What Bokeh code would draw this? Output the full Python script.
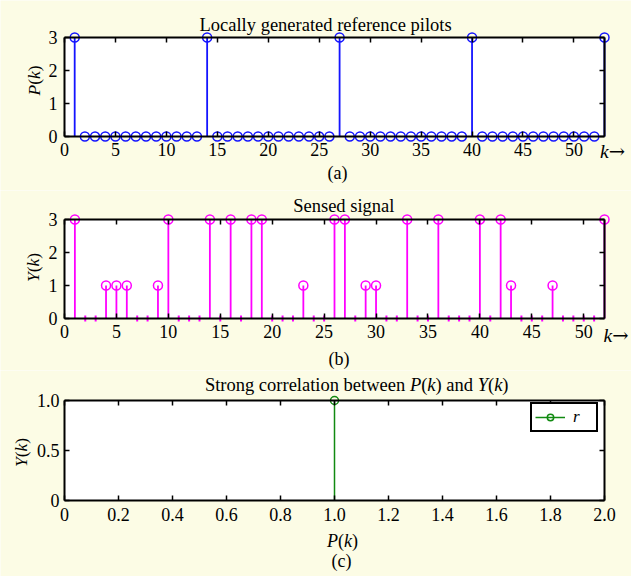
import math
from bokeh.plotting import figure
from bokeh.layouts import column
from bokeh.models import (Range1d, LinearAxis, FixedTicker, BoxAnnotation, Label,
                          Legend, LegendItem, CustomJSTickFormatter)
from bokeh.core.properties import value
from bokeh.embed import file_html
from bokeh.resources import INLINE

# ---------------- data ----------------
k_pilot = list(range(1, 54))
P_pilot = [3, 0, 0, 0, 0, 0, 0, 0, 0, 0, 0, 0, 0,
           3, 0, 0, 0, 0, 0, 0, 0, 0, 0, 0, 0, 0,
           3, 0, 0, 0, 0, 0, 0, 0, 0, 0, 0, 0, 0,
           3, 0, 0, 0, 0, 0, 0, 0, 0, 0, 0, 0, 0,
           3]

k_sensed = list(range(1, 53))
Y_sensed = [3, 0, 0, 1, 1, 1, 0, 0, 1, 3,
            0, 0, 0, 3, 0, 3, 0, 3, 3, 0,
            0, 0, 1, 0, 0, 3, 3, 0, 1, 1,
            0, 0, 3, 0, 0, 3, 0, 0, 0, 3,
            0, 3, 1, 0, 0, 0, 1, 0, 0, 0,
            0, 3]

corr_P = [1.0]
corr_r = [1.0]

a_xlim = (0, 53)
a_ylim = (0, 3)
b_xlim = (0, 52)
b_ylim = (0, 3)
c_xlim = (0, 2)
c_ylim = (0, 1)

k_ticks = [0, 5, 10, 15, 20, 25, 30, 35, 40, 45, 50]
amp_ticks = [0, 1, 2, 3]
c_xticks = [0, 0.2, 0.4, 0.6, 0.8, 1.0, 1.2, 1.4, 1.6, 1.8, 2.0]
c_xtick_labels = ["0", "0.2", "0.4", "0.6", "0.8", "1.0", "1.2", "1.4", "1.6", "1.8", "2.0"]
c_yticks = [0, 0.5, 1.0]
c_ytick_labels = ["0", "0.5", "1.0"]

# ---------------- style ----------------
W = 631
BG = "#FCFCE5"
FONT = "Liberation Serif"
ARROW_FONT = "DejaVu Serif"
BLUE = "#1414FF"
MAGENTA = "#FF00FF"
GREEN = "#118A11"
TICK_FS = "18px"
FRAMES = {}

W_REG = {' ': .25, '(': .333, ')': .333, 'a': .444, 'b': .5, 'c': .444, 'd': .5,
         'e': .444, 'f': .333, 'g': .5, 'i': .278, 'l': .278, 'n': .5, 'o': .5,
         'p': .5, 'r': .333, 's': .389, 't': .278, 'w': .722, 'y': .5, 'S': .556,
         'L': .611, '\u2192': 0.838}
W_IT = {'P': .611, 'k': .444, 'Y': .556, 'r': .389}


def tw(s, italic, size):
    tbl = W_IT if italic else W_REG
    return sum(tbl.get(ch, 0.5) for ch in s) * size


def make_panel(h, xlim, ylim, x0px, x1px, ytop, ybot):
    """Frame covers the whole canvas; the data box maps onto the given pixels."""
    sx = (x1px - x0px) / (xlim[1] - xlim[0])
    sy = (ybot - ytop) / (ylim[1] - ylim[0])
    p = figure(width=W, height=h,
               x_range=Range1d(xlim[0] - x0px / sx, xlim[1] + (W - x1px) / sx),
               y_range=Range1d(ylim[0] - (h - ybot) / sy, ylim[1] + ytop / sy),
               output_backend="svg", toolbar_location=None,
               x_axis_location=None, y_axis_location=None,
               min_border=0, min_border_left=0, min_border_right=0,
               min_border_top=0, min_border_bottom=0,
               background_fill_color=BG, border_fill_color=BG,
               outline_line_color=None)
    p.xgrid.visible = False
    p.ygrid.visible = False
    p.grid.grid_line_color = None
    p.add_layout(BoxAnnotation(left=xlim[0], right=xlim[1], bottom=ylim[0], top=ylim[1],
                               fill_color="white", fill_alpha=1.0, line_color=None,
                               level="underlay"))
    FRAMES[p.id] = (0, h)
    return p


def blank():
    return CustomJSTickFormatter(code="return ''")


def add_axes(p, xlim, ylim, xticks, yticks, xover=None, yover=None, sx=3, sy=7):
    common = dict(major_tick_in=5, major_tick_out=0, minor_tick_line_color=None,
                  axis_line_width=2, axis_line_color="black",
                  major_tick_line_width=1.5, major_tick_line_color="black",
                  major_label_text_font=FONT, major_label_text_font_size=TICK_FS,
                  major_label_text_color="black")
    below = LinearAxis(ticker=FixedTicker(ticks=xticks), bounds=xlim,
                       fixed_location=ylim[0], major_label_standoff=sx, **common)
    if xover:
        below.major_label_overrides = xover
    above = LinearAxis(ticker=FixedTicker(ticks=xticks), bounds=xlim,
                       fixed_location=ylim[1], formatter=blank(), major_label_standoff=0, **common)
    left = LinearAxis(ticker=FixedTicker(ticks=yticks), bounds=ylim,
                      fixed_location=xlim[0], major_label_standoff=sy, **common)
    if yover:
        left.major_label_overrides = yover
    right = LinearAxis(ticker=FixedTicker(ticks=yticks), bounds=ylim,
                       fixed_location=xlim[1], formatter=blank(), major_label_standoff=0, **common)
    p.add_layout(below, "below")
    p.add_layout(above, "above")
    p.add_layout(left, "left")
    p.add_layout(right, "right")


def rich(p, pieces, cx, cy, size, angle=0.0, anchor="center"):
    """Mixed upright/italic text, (cx, cy) in figure pixels from top-left; cy is the middle."""
    fl, fb = FRAMES[p.id]
    total = sum(tw(t, it, size) for t, it in pieces)
    pos = -total / 2 if anchor == "center" else 0.0
    dx, dy = math.cos(angle), math.sin(angle)
    x0 = cx - fl
    y0 = fb - cy
    for t, it in pieces:
        font = ARROW_FONT if t == "\u2192" else FONT
        p.add_layout(Label(x=x0 + dx * pos, y=y0 + dy * pos, x_units="screen", y_units="screen",
                           text=t, angle=angle, text_font=font, text_font_size=f"{size}px",
                           text_font_style="italic" if it else "normal",
                           text_align="left", text_baseline="middle", text_color="black"))
        pos += tw(t, it, size)


# ---------------- panel (a) ----------------
pa = make_panel(190, a_xlim, a_ylim, 64, 604, 37, 136)
pa.segment(x0=k_pilot, y0=0, x1=k_pilot, y1=P_pilot, line_color=BLUE, line_width=1.8)
pa.scatter(k_pilot, P_pilot, marker="circle", size=9, fill_color=None,
           line_color=BLUE, line_width=1.5)
add_axes(pa, a_xlim, a_ylim, k_ticks, amp_ticks, sx=6, sy=7)
rich(pa, [("Locally generated reference pilots", False)], 199, 24.5, 18.5, anchor="left")
rich(pa, [("P", True), ("(", False), ("k", True), (")", False)], 33, 80, 17.5,
     angle=math.pi / 2)
rich(pa, [("k", True), ("\u2192", False)], 599.5, 151, 19.5, anchor="left")
rich(pa, [("(a)", False)], 337, 172.5, 18)

# ---------------- panel (b) ----------------
pb = make_panel(180, b_xlim, b_ylim, 64, 604, 29, 128)
kb_nz = [k for k, y in zip(k_sensed, Y_sensed) if y != 0]
yb_nz = [y for y in Y_sensed if y != 0]
kb_z = [k for k, y in zip(k_sensed, Y_sensed) if y == 0]
yb_z = [y for y in Y_sensed if y == 0]
pb.segment(x0=kb_nz, y0=0, x1=kb_nz, y1=yb_nz, line_color=MAGENTA, line_width=1.8)
pb.scatter(kb_nz, yb_nz, marker="circle", size=9, fill_color=None,
           line_color=MAGENTA, line_width=1.5)
pb.scatter(kb_z, yb_z, marker="dash", angle=math.pi / 2, size=6,
           line_color=MAGENTA, line_width=2)
add_axes(pb, b_xlim, b_ylim, k_ticks, amp_ticks, sx=6, sy=7)
rich(pb, [("Sensed signal", False)], 292.7, 15.5, 18.5, anchor="left")
rich(pb, [("Y", True), ("(", False), ("k", True), (")", False)], 32.5, 77, 17.5,
     angle=math.pi / 2)
rich(pb, [("k", True), ("\u2192", False)], 603, 145, 19.5, anchor="left")
rich(pb, [("(b)", False)], 338.5, 168, 18)

# ---------------- panel (c) ----------------
pc = make_panel(206, c_xlim, c_ylim, 64, 604, 30, 130)
seg_c = pc.segment(x0=corr_P, y0=0, x1=corr_P, y1=corr_r, line_color=GREEN, line_width=1.5)
dot_c = pc.scatter(corr_P, corr_r, marker="circle", size=8, fill_color=None,
                   line_color=GREEN, line_width=1.5)
add_axes(pc, c_xlim, c_ylim, c_xticks, c_yticks,
         xover=dict(zip(c_xticks, c_xtick_labels)),
         yover=dict(zip(c_yticks, c_ytick_labels)), sx=7, sy=5)
rich(pc, [("Strong correlation between ", False), ("P", True), ("(", False), ("k", True),
          (") and ", False), ("Y", True), ("(", False), ("k", True), (")", False)],
     204.4, 14.5, 18.5, anchor="left")
rich(pc, [("Y", True), ("(", False), ("k", True), (")", False)], 20.5, 82, 17.5,
     angle=math.pi / 2)
rich(pc, [("P", True), ("(", False), ("k", True), (")", False)], 342, 170.5, 18)
rich(pc, [("(c)", False)], 341, 190.5, 18)

legend = Legend(items=[LegendItem(label=value("r"), renderers=[seg_c, dot_c])],
                location=(530, 206 - 62), padding=3, spacing=0,
                glyph_width=30, glyph_height=16, label_standoff=8,
                label_text_font=FONT, label_text_font_style="italic",
                label_text_font_size="17px", label_text_color="black",
                border_line_color="black", border_line_width=2, border_line_alpha=1.0,
                background_fill_color="white", background_fill_alpha=1.0)
pc.add_layout(legend)

layout = column(pa, pb, pc, spacing=0)
open("out.html", "w").write(file_html(layout, INLINE))
